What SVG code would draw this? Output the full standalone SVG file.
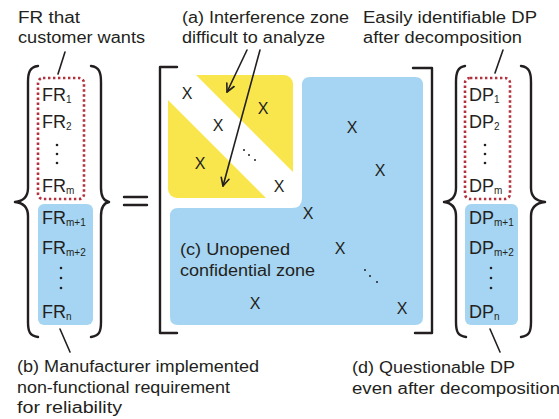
<svg xmlns="http://www.w3.org/2000/svg" width="559" height="419" viewBox="0 0 559 419">
  <defs>
    <style>
      text { font-family: "Liberation Sans", Arial, sans-serif; fill: #231f20; }
      .lbl { font-size: 16px; }
      .var { font-size: 18px; }
      .sub { font-size: 10px; }
      .x { font-size: 16px; text-anchor: middle; }
      .ink { fill: none; stroke: #231f20; stroke-width: 2.4; stroke-linecap: round; stroke-linejoin: round; }
      .thin { fill: none; stroke: #231f20; stroke-width: 1.6; stroke-linecap: round; }
      .dotbox { fill: none; stroke: #b3313c; stroke-width: 2.6; stroke-dasharray: 2.4 2.6; }
      .blue { fill: #a5d5f2; }
      .yellow { fill: #f9e64c; }
      .dot { fill: #231f20; }
    </style>
    <marker id="vhead" viewBox="0 0 10 10" refX="9" refY="5" markerWidth="10" markerHeight="10" markerUnits="userSpaceOnUse" orient="auto">
      <path d="M1,1 L9,5 L1,9" fill="none" stroke="#231f20" stroke-width="1.6" stroke-linecap="round" stroke-linejoin="round"/>
    </marker>
  </defs>

  <rect width="559" height="419" fill="#ffffff"/>

  <!-- FR vector -->
  <g id="fr-vector">
    <path class="ink" d="M38,66 C30,67 28,72 28,82 L28,188 C28,196 24,201 15,202 C24,203 28,208 28,216 L28,322 C28,332 30,336 38,337"/>
    <path class="ink" d="M91,66 C99,67 101,72 101,82 L101,188 C101,196 104,201 109,202 C104,203 101,208 101,216 L101,322 C101,332 99,336 91,337"/>
    <rect class="blue" x="38" y="204" width="55" height="121" rx="6"/>
    <rect class="dotbox" x="38" y="78" width="46" height="121" rx="5"/>
    <text class="var" x="42" y="101">FR<tspan class="sub" dy="2">1</tspan></text>
    <text class="var" x="42" y="128">FR<tspan class="sub" dy="2">2</tspan></text>
    <circle class="dot" cx="57" cy="145" r="1.3"/>
    <circle class="dot" cx="57" cy="154" r="1.3"/>
    <circle class="dot" cx="57" cy="163" r="1.3"/>
    <text class="var" x="42" y="192">FR<tspan class="sub" dy="2">m</tspan></text>
    <text class="var" x="42" y="224">FR<tspan class="sub" dy="2">m+1</tspan></text>
    <text class="var" x="42" y="254">FR<tspan class="sub" dy="2">m+2</tspan></text>
    <circle class="dot" cx="61" cy="268" r="1.3"/>
    <circle class="dot" cx="61" cy="278" r="1.3"/>
    <circle class="dot" cx="61" cy="288" r="1.3"/>
    <text class="var" x="42" y="318">FR<tspan class="sub" dy="2">n</tspan></text>
  </g>

  <!-- equals sign -->
  <g id="equals">
    <path class="ink" d="M124,197 H147 M124,205 H147" stroke-linecap="butt"/>
  </g>

  <!-- design matrix -->
  <g id="matrix">
    <path class="ink" d="M177,67 H160 V333 H177" stroke-linecap="butt"/>
    <path class="ink" d="M413,68 H432 V333 H415" stroke-linecap="butt"/>
    <!-- interference zone -->
    <rect class="yellow" x="168" y="75" width="125" height="123" rx="9"/>
    <polygon fill="#ffffff" points="168,74 195,74 294,173 294,199 267,199 168,100"/>
    <!-- unopened confidential zone -->
    <path class="blue" d="M310,77 H415 Q423,77 423,85 V317 Q423,325 415,325 H178 Q170,325 170,317 V216 Q170,208 178,208 H292 Q302,208 302,198 V85 Q302,77 310,77 Z"/>
    <text class="x" x="187" y="99">X</text>
    <text class="x" x="263" y="114">X</text>
    <text class="x" x="218" y="131">X</text>
    <text class="x" x="200" y="169">X</text>
    <text class="x" x="279" y="192">X</text>
    <circle class="dot" cx="244" cy="150" r="1"/>
    <circle class="dot" cx="249" cy="155" r="1"/>
    <circle class="dot" cx="255" cy="160" r="1"/>
    <text class="x" x="352" y="133">X</text>
    <text class="x" x="380" y="176">X</text>
    <text class="x" x="308" y="219">X</text>
    <text class="x" x="340" y="254">X</text>
    <text class="x" x="255" y="309">X</text>
    <text class="x" x="402" y="314">X</text>
    <circle class="dot" cx="365" cy="270" r="1"/>
    <circle class="dot" cx="370" cy="276" r="1"/>
    <circle class="dot" cx="377" cy="282" r="1"/>
    <text class="lbl" x="180" y="255" textLength="110" lengthAdjust="spacingAndGlyphs">(c) Unopened</text>
    <text class="lbl" x="180" y="276" textLength="135" lengthAdjust="spacingAndGlyphs">confidential zone</text>
  </g>

  <!-- DP vector -->
  <g id="dp-vector">
    <path class="ink" d="M465,66 C458,67 456,72 456,82 L456,188 C456,196 452,201 444,202 C452,203 456,208 456,216 L456,322 C456,332 458,336 466,337"/>
    <path class="ink" d="M521,66 C529,67 531,72 531,82 L531,188 C531,196 536,201 545,202 C536,203 531,208 531,216 L531,322 C531,332 529,336 521,337"/>
    <rect class="blue" x="465" y="204" width="53" height="121" rx="6"/>
    <rect class="dotbox" x="465" y="78" width="45" height="121" rx="5"/>
    <text class="var" x="469" y="101">DP<tspan class="sub" dy="2">1</tspan></text>
    <text class="var" x="469" y="128">DP<tspan class="sub" dy="2">2</tspan></text>
    <circle class="dot" cx="485" cy="145" r="1.3"/>
    <circle class="dot" cx="485" cy="154" r="1.3"/>
    <circle class="dot" cx="485" cy="163" r="1.3"/>
    <text class="var" x="469" y="192">DP<tspan class="sub" dy="2">m</tspan></text>
    <text class="var" x="469" y="224">DP<tspan class="sub" dy="2">m+1</tspan></text>
    <text class="var" x="469" y="254">DP<tspan class="sub" dy="2">m+2</tspan></text>
    <circle class="dot" cx="491" cy="268" r="1.3"/>
    <circle class="dot" cx="491" cy="278" r="1.3"/>
    <circle class="dot" cx="491" cy="288" r="1.3"/>
    <text class="var" x="469" y="318">DP<tspan class="sub" dy="2">n</tspan></text>
  </g>

  <!-- annotations -->
  <g id="labels">
    <text class="lbl" x="18" y="23" textLength="62" lengthAdjust="spacingAndGlyphs">FR that</text>
    <text class="lbl" x="18" y="43" textLength="127" lengthAdjust="spacingAndGlyphs">customer wants</text>
    <text class="lbl" x="182" y="23" textLength="167" lengthAdjust="spacingAndGlyphs">(a) Interference zone</text>
    <text class="lbl" x="182" y="43" textLength="143" lengthAdjust="spacingAndGlyphs">difficult to analyze</text>
    <text class="lbl" x="363" y="23" textLength="174" lengthAdjust="spacingAndGlyphs">Easily identifiable DP</text>
    <text class="lbl" x="363" y="43" textLength="159" lengthAdjust="spacingAndGlyphs">after decomposition</text>
    <text class="lbl" x="17" y="372" textLength="242" lengthAdjust="spacingAndGlyphs">(b) Manufacturer implemented</text>
    <text class="lbl" x="17" y="393" textLength="213" lengthAdjust="spacingAndGlyphs">non-functional requirement</text>
    <text class="lbl" x="17" y="413" textLength="105" lengthAdjust="spacingAndGlyphs">for reliability</text>
    <text class="lbl" x="352" y="373" textLength="163" lengthAdjust="spacingAndGlyphs">(d) Questionable DP</text>
    <text class="lbl" x="352" y="394" textLength="208" lengthAdjust="spacingAndGlyphs">even after decomposition</text>
  </g>

  <!-- leader lines and arrows -->
  <g id="connectors">
    <line class="thin" x1="65" y1="52" x2="58" y2="74"/>
    <line class="thin" x1="60" y1="329" x2="70" y2="352"/>
    <line class="thin" x1="503" y1="50" x2="495" y2="73"/>
    <line class="thin" x1="490" y1="329" x2="500" y2="352"/>
    <line class="thin" x1="247" y1="50" x2="227" y2="92" marker-end="url(#vhead)"/>
    <line class="thin" x1="260" y1="50" x2="223" y2="186" marker-end="url(#vhead)"/>
  </g>
</svg>
